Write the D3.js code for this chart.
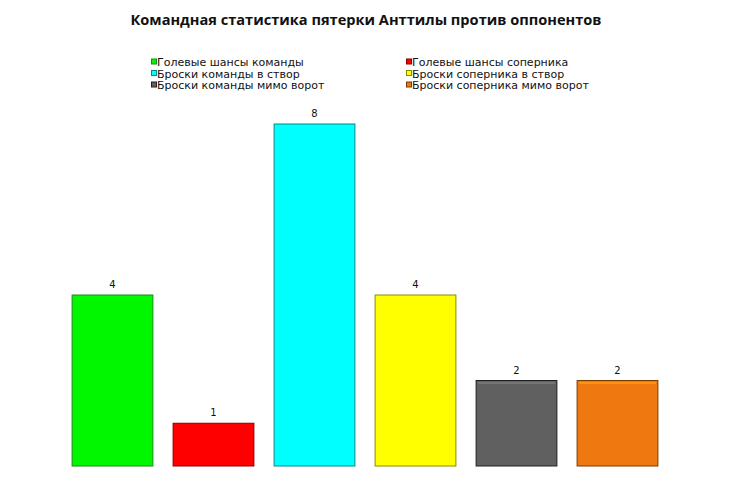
<!DOCTYPE html>
<html><head><meta charset="utf-8">
<script src="https://cdn.jsdelivr.net/npm/d3@7"></script>
<style>body{margin:0;background:#fff;}svg{display:block;}</style>
</head><body>
<script>
const title = "Командная статистика  пятерки Анттилы против оппонентов";
const categories = ["Голевые шансы команды","Голевые шансы соперника","Броски команды в створ","Броски соперника в створ","Броски команды мимо ворот","Броски соперника мимо ворот"];
const values = [4,1,8,4,2,2];
const colors = ["#00f700","#ff0000","#00ffff","#ffff00","#606060","#f07810"];
const borders = ["#1a8a1a","#8a0000","#008a8a","#8a8a00","#202020","#7a3a00"];

const W=730,H=477;
const svg=d3.select("body").append("svg").attr("width",W).attr("height",H);

const x=d3.scaleBand().domain(categories).range([62,668]).paddingInner(0.2).paddingOuter(0.1);
const y=d3.scaleLinear().domain([0,8]).range([466,124]);

svg.append("text").attr("x",366).attr("y",25).attr("text-anchor","middle")
  .attr("font-family","Open Sans, sans-serif").attr("font-weight","bold").attr("font-size",14.6)
  .attr("fill","#111").text(title);

const bars=svg.append("g");
categories.forEach((c,i)=>{
  bars.append("rect").attr("x",x(c)).attr("y",y(values[i])).attr("width",x.bandwidth())
    .attr("height",y(0)-y(values[i])).attr("fill",colors[i]).attr("stroke",borders[i]).attr("stroke-width",1);
  bars.append("rect").attr("x",x(c)+2).attr("y",y(values[i])+1.5).attr("width",x.bandwidth()-4)
    .attr("height",2).attr("fill",d3.color(colors[i]).brighter(0.7)).attr("opacity",0.8);
  bars.append("text").attr("x",x(c)+x.bandwidth()/2).attr("y",y(values[i])-7)
    .attr("text-anchor","middle").attr("font-family","DejaVu Sans, sans-serif").attr("font-size",10)
    .attr("fill","#111").text(values[i]);
});

const leg=svg.append("g");
categories.forEach((c,i)=>{
  const col=i%2, row=Math.floor(i/2);
  const lx=col===0?151.5:406.5, ly=62+row*11.5;
  leg.append("rect").attr("x",lx).attr("y",ly-3).attr("width",5).attr("height",5)
    .attr("fill",colors[i]).attr("stroke",borders[i]).attr("stroke-width",1);
  leg.append("text").attr("x",lx+5.5).attr("y",ly+4).attr("font-family","DejaVu Sans, sans-serif")
    .attr("font-size",11).attr("fill","#111").text(c);
});
</script>
</body></html>
